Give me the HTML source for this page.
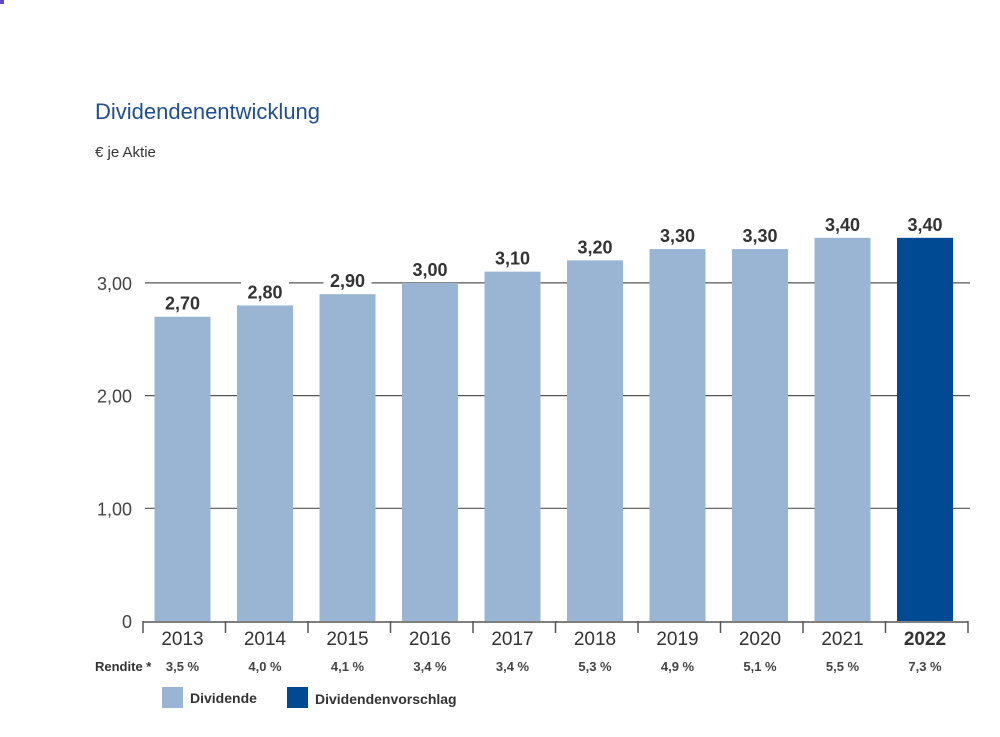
<!DOCTYPE html>
<html><head><meta charset="utf-8"><style>
body{margin:0;background:#fff;width:1000px;height:732px;overflow:hidden;font-family:"Liberation Sans",sans-serif}
</style></head><body>
<svg width="1000" height="732" viewBox="0 0 1000 732" xmlns="http://www.w3.org/2000/svg">
<rect x="0" y="0" width="4" height="4" fill="#5b4bd0"/>
<text x="95" y="119" font-size="22" fill="#1f4f8e">Dividendenentwicklung</text>
<text x="95" y="157" font-size="15" fill="#333">€ je Aktie</text>
<g id="grid"></g><g id="bars"></g><g id="axis"></g>
<g>
<rect x="162" y="687" width="21" height="21" fill="#9ab5d4"/>
<text x="190" y="703" font-size="14" font-weight="bold" fill="#333">Dividende</text>
<rect x="287" y="687" width="21" height="21" fill="#004a93"/>
<text x="315" y="704" font-size="14" font-weight="bold" fill="#333">Dividendenvorschlag</text>
</g>
</svg>
<script>
const years=["2013","2014","2015","2016","2017","2018","2019","2020","2021","2022"];
const dividends=[2.70,2.80,2.90,3.00,3.10,3.20,3.30,3.30,3.40,3.40];
const yields=["3,5 %","4,0 %","4,1 %","3,4 %","3,4 %","5,3 %","4,9 %","5,1 %","5,5 %","7,3 %"];
const yTicks=[0,1,2,3];
const yTickLabels=["0","1,00","2,00","3,00"];
const NS="http://www.w3.org/2000/svg";
const x0=143,pitch=82.5,bw=56,y0=621,unit=112.7;
const xs=i=>182.5+pitch*i;
const ys=v=>y0-v*unit;
function mk(t,a,p){const e=document.createElementNS(NS,t);for(const k in a)e.setAttribute(k,a[k]);p.appendChild(e);return e;}
const grid=document.getElementById('grid'),bars=document.getElementById('bars'),axis=document.getElementById('axis');
yTicks.forEach((v,i)=>{
 if(v>0){const l=mk('line',{x1:145,x2:970,y1:ys(v),y2:ys(v),stroke:'#555','stroke-width':1.2},grid);
 
 }
 const t=mk('text',{x:132,y:ys(v)+7,'font-size':18,fill:'#444','text-anchor':'end'},grid);
 t.textContent=yTickLabels[i];
 
 
});
dividends.forEach((v,i)=>{
 const last=i===dividends.length-1;
 const r=mk('rect',{x:xs(i)-bw/2,y:ys(v),width:bw,height:y0-ys(v),fill:last?'#004a93':'#9ab5d4'},bars);
 
 
 const s=v.toFixed(2).replace('.',',');
 const bg=mk('rect',{x:xs(i)-24,y:ys(v)-24,width:48,height:20,fill:'#fff'},bars);
 
 
 const t=mk('text',{x:xs(i),y:ys(v)-7,'font-size':18,'font-weight':'bold',fill:'#333','text-anchor':'middle'},bars);
 t.textContent=s;
 
 
 const yl=mk('text',{x:xs(i),y:645,'font-size':19,fill:'#333','text-anchor':'middle','font-weight':last?'bold':'normal'},axis);
 yl.textContent=years[i];
 
 
 const rt=mk('text',{x:xs(i),y:671,'font-size':13,'font-weight':'bold',fill:'#444','text-anchor':'middle'},axis);
 rt.textContent=yields[i];
 
 
});
const base=mk('line',{x1:x0,x2:968,y1:y0+1,y2:y0+1,stroke:'#555','stroke-width':1.5},axis);


for(let i=0;i<=years.length;i++){
 const tk=mk('line',{x1:x0+pitch*i,x2:x0+pitch*i,y1:y0,y2:y0+12,stroke:'#555','stroke-width':1.5},axis);
 
 
}
const rl=mk('text',{x:95,y:671,'font-size':13,'font-weight':'bold',fill:'#333'},axis);
rl.textContent='Rendite *';


</script>
</body></html>
